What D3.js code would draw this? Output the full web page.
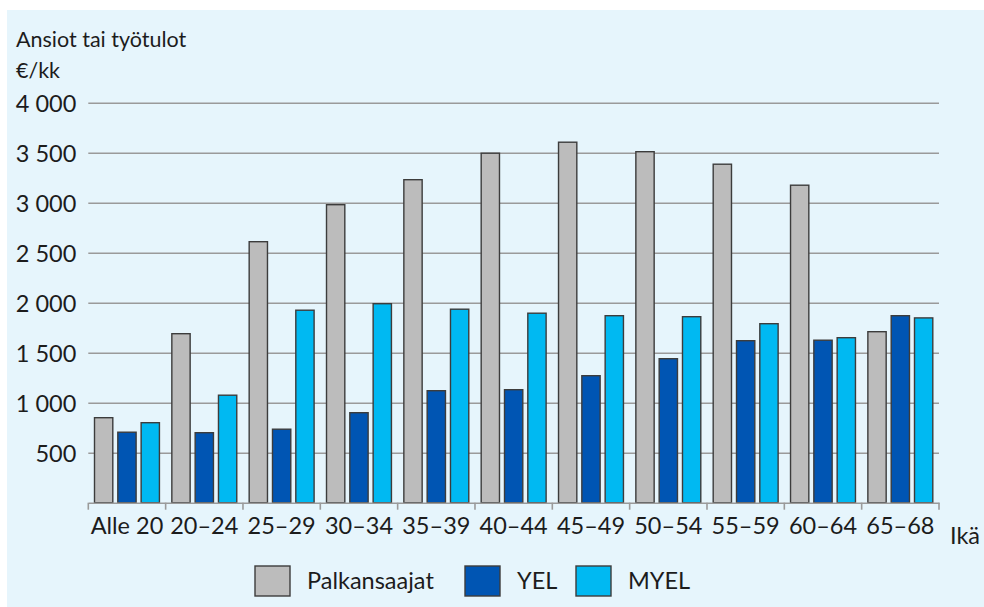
<!DOCTYPE html>
<html><head><meta charset="utf-8">
<script src="https://cdn.jsdelivr.net/npm/d3@7"></script>
<style>
html,body{margin:0;padding:0;background:#fff;}
svg{display:block;}
text{font-family:Lato,"Open Sans",sans-serif;fill:#1c1c1c;}
</style></head><body>
<svg id="chart" width="984" height="607"></svg>
<script>
const categories = ["Alle 20","20–24","25–29","30–34","35–39","40–44","45–49","50–54","55–59","60–64","65–68"];
const seriesNames = ["Palkansaajat","YEL","MYEL"];
const palkansaajat = [850,1690,2610,2980,3230,3495,3605,3510,3385,3175,1710];
const yel = [705,700,735,900,1120,1130,1270,1440,1620,1625,1870];
const myel = [800,1075,1925,1990,1935,1895,1870,1860,1790,1650,1848];
const yTicks = [500,1000,1500,2000,2500,3000,3500,4000];
const colors = ["#bcbcbc","#0055b3","#00b9f2"];

const values = [palkansaajat, yel, myel];
const data = categories.map((c,i)=>({cat:c, vals: seriesNames.map((s,j)=>({key:s, value: values[j][i]}))}));

const svg = d3.select("#chart");
svg.append("rect").attr("x",7).attr("y",10).attr("width",977).attr("height",597).attr("fill","#e6f5fc");

const left = 88.3, right = 939, baseY = 502.7, topY = 102.7;
const x0 = d3.scaleBand().domain(categories).range([left,right]).padding(0);
const x1 = d3.scaleBand().domain(seriesNames).range([0,x0.bandwidth()]).paddingInner(0.215).paddingOuter(0.266);
const y = d3.scaleLinear().domain([0,4000]).range([baseY, topY]);
const color = d3.scaleOrdinal().domain(seriesNames).range(colors);

// grid
const yAxis = d3.axisLeft(y).tickValues(yTicks).tickSize(-(right-left)).tickPadding(12)
  .tickFormat(d => d3.format(",")(d).replace(","," "));
const gy = svg.append("g").attr("transform",`translate(${left},0)`).call(yAxis);
gy.select(".domain").remove();
gy.selectAll(".tick line").attr("stroke","#9a9a9a").attr("stroke-width",1.6);
gy.selectAll(".tick text").attr("font-size",23.5).attr("fill","#1c1c1c").attr("x",-12).attr("dy","0.36em");

// bars
const groups = svg.append("g").selectAll("g").data(data).join("g")
  .attr("transform", d=>`translate(${x0(d.cat)},0)`);
groups.selectAll("rect").data(d=>d.vals).join("rect")
  .attr("x", d=>x1(d.key)).attr("width", x1.bandwidth())
  .attr("y", d=>y(d.value)).attr("height", d=>baseY - y(d.value))
  .attr("fill", d=>color(d.key)).attr("stroke","#3c3c3c").attr("stroke-width",1.4);

// x axis
const xAxis = d3.axisBottom(x0).tickSize(0).tickPadding(13);
const gx = svg.append("g").attr("transform",`translate(0,${baseY})`).call(xAxis);
gx.select(".domain").attr("stroke","#9a9a9a").attr("stroke-width",1.6);
gx.selectAll(".tick text").attr("font-size",23.5).attr("fill","#1c1c1c").attr("dy","0.8em");
// boundary ticks
const bounds = categories.map(c=>x0(c)).concat([right]);
svg.append("g").selectAll("line").data(bounds).join("line")
  .attr("x1",d=>d).attr("x2",d=>d).attr("y1",baseY).attr("y2",baseY+7)
  .attr("stroke","#9a9a9a").attr("stroke-width",1.6);

svg.append("text").attr("x",950).attr("y",544).attr("font-size",23.5).text("Ikä");
svg.append("text").attr("x",16).attr("y",47).attr("font-size",21.5).text("Ansiot tai työtulot");
svg.append("text").attr("x",16).attr("y",78).attr("font-size",21.5).text("€/kk");

// legend
const legendX = [255,465,576];
const lg = svg.append("g").selectAll("g").data(seriesNames).join("g")
  .attr("transform",(d,i)=>`translate(${legendX[i]},566)`);
lg.append("rect").attr("width",35).attr("height",30).attr("fill",d=>color(d)).attr("stroke","#3c3c3c").attr("stroke-width",1.4);
lg.append("text").attr("x",52).attr("y",23).attr("font-size",23.5).text(d=>d);
</script>
</body></html>
